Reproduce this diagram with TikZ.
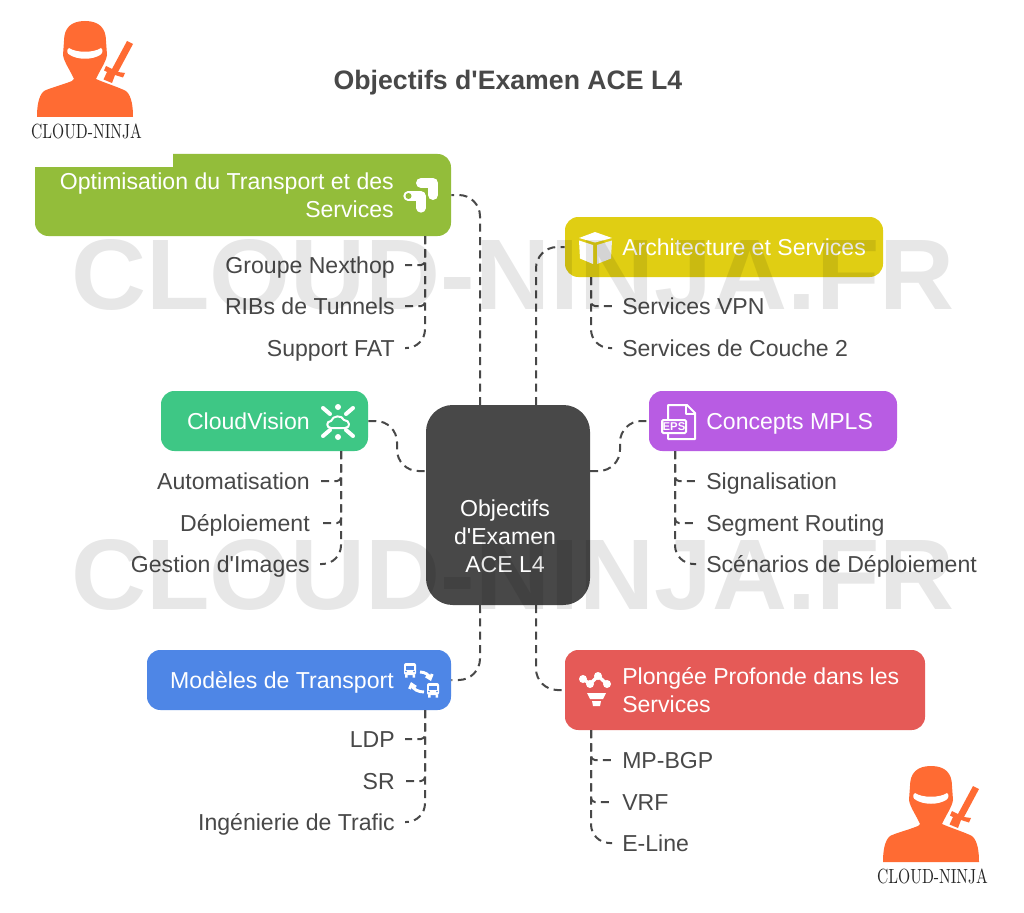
\documentclass[tikz,border=0pt]{standalone}
\usepackage{fontspec}
\usetikzlibrary{arrows.meta}
\setsansfont{Liberation Sans}
\definecolor{cOpt}{HTML}{93BD3A}
\definecolor{cArch}{HTML}{E0CE13}
\definecolor{cCon}{HTML}{B85CE3}
\definecolor{cCloud}{HTML}{3EC785}
\definecolor{cMod}{HTML}{4E86E6}
\definecolor{cPlo}{HTML}{E55A57}
\definecolor{cDark}{HTML}{484848}
\definecolor{cNinja}{HTML}{FF6B33}
\tikzset{
  box/.style={rectangle,rounded corners=10pt,inner sep=0pt},
  wh/.style 2 args={minimum width={#1*0.75pt},minimum height={#2*0.75pt}},
  boxtext/.style={font=\sffamily\fontsize{17.3}{21}\selectfont,text=white,inner sep=0pt},
  oneline/.style={text height=15.8pt,text depth=3.5pt},
  leaf/.style={font=\sffamily\fontsize{17.3}{21}\selectfont,text=cDark,inner ysep=0pt,inner xsep=7.5pt,oneline},
  conn/.style={draw=cDark,line width=1.5pt,dash pattern=on 6pt off 4pt},
  wm/.style={text=black,text opacity=0.095,inner sep=0pt},
  ico/.style={draw=white,line width=1.5pt,line cap=round,line join=round},
}
\newcommand{\leaflink}[3]{\draw[conn,rounded corners=#3] (#1) -- (#1 |- #2.east) -- (#2.east);}
\newcommand{\leaflinkw}[3]{\draw[conn,rounded corners=#3] (#1) -- (#1 |- #2.west) -- (#2.west);}
\newcommand{\ninjalogo}[3]{%
 \begin{scope}[shift={(#1,#2)}]
  \fill[cNinja] (85,21) .. controls (71,21) and (64,28) .. (64,41) -- (63,55)
     .. controls (64,62) and (70,70) .. (74,79) -- (72,81)
     .. controls (62,85) and (50,88) .. (44,91)
     .. controls (38,96) and (37,108) .. (37,117) -- (133,117)
     .. controls (133,108) and (132,96) .. (126,91)
     .. controls (118,87) and (105,83) .. (96,79)
     .. controls (100,70) and (106,62) .. (107,55) -- (106,41)
     .. controls (106,28) and (99,21) .. (85,21) -- cycle;
  \fill[white] (69,48) .. controls (76,53) and (94,53) .. (101,48)
     .. controls (104,50) and (102,54) .. (100,55)
     .. controls (92,60) and (78,60) .. (70,55)
     .. controls (67,54) and (66,50) .. (69,48) -- cycle;
  \fill[cNinja] (127,41) -- (133,44) -- (118,72) -- (125,73) -- (123,77.5) -- (115,75) -- (112,83)
     -- (103.5,79.5) -- (107,72) -- (104,70.5) -- (106,66) -- (112,69) -- cycle;
  \node[inner sep=0pt,text=black!85] (#3) at (86.5,131) {\resizebox{83pt}{11pt}{CLOUD-NINJA}};
 \end{scope}}
\newcommand{\busico}[3]{%
 \begin{scope}[shift={(#1,#2)}]
  \fill[white,rounded corners=1.5pt] (0,0) rectangle (12,12);
  \fill[white] (1,12) rectangle (3.5,14.5) (8.5,12) rectangle (11,14.5);
  \fill[#3] (2,2.5) rectangle (10,6.5);
  \fill[#3] (2,8.5) circle (0.9) (10,8.5) circle (0.9);
 \end{scope}}
\begin{document}
\begin{tikzpicture}[x=0.75pt,y=-0.75pt]
\useasboundingbox (0,0) rectangle (1024,913);
\fill[white] (0,0) rectangle (1024,913);

% connector ends on the central box and trunks
\coordinate (cNL) at (480,405);
\coordinate (cNR) at (536,405);
\coordinate (cSL) at (480,605);
\coordinate (cSR) at (536,605);
\coordinate (cW) at (426,471);
\coordinate (cE) at (590,471);
\coordinate (tOpt) at (425,236);
\coordinate (tArch) at (591,277);
\coordinate (tCon) at (675,451);
\coordinate (tCloud) at (341,451);
\coordinate (tMod) at (425,710);
\coordinate (tPlo) at (591,730);
\coordinate (sCon1) at (620,471);
\coordinate (sCon2) at (620,421);
\coordinate (sCl1) at (397,421);
\coordinate (sCl2) at (397,471);

% leaves
\node[leaf,anchor=east] (o1) at (405,265) {Groupe Nexthop};
\node[leaf,anchor=east] (o2) at (405,306) {RIBs de Tunnels};
\node[leaf,anchor=east] (o3) at (405,348) {Support FAT};
\node[leaf,anchor=west] (a1) at (612,306) {Services VPN};
\node[leaf,anchor=west] (a2) at (612,348) {Services de Couche 2};
\node[leaf,anchor=west] (m1) at (696,481) {Signalisation};
\node[leaf,anchor=west] (m2) at (696,523) {Segment Routing};
\node[leaf,anchor=west] (m3) at (696,564) {Scénarios de Déploiement};
\node[leaf,anchor=east] (v1) at (320,481) {Automatisation};
\node[leaf,anchor=east] (v2) at (320,523) {Déploiement};
\node[leaf,anchor=east] (v3) at (320,564) {Gestion d\textquotesingle{}Images};
\node[leaf,anchor=east] (t1) at (405,739) {LDP};
\node[leaf,anchor=east] (t2) at (405,781) {SR};
\node[leaf,anchor=east] (t3) at (405,822) {Ingénierie de Trafic};
\node[leaf,anchor=west] (p1) at (612,760) {MP-BGP};
\node[leaf,anchor=west] (p2) at (612,802) {VRF};
\node[leaf,anchor=west] (p3) at (612,843) {E-Line};

% boxes
\node[box,fill=cOpt,wh={416}{82}] (opt) at (243,195) {};
\fill[white] (34,153) rectangle (173,167);
\fill[cOpt] (35,167) rectangle (60,190);
\node[box,fill=cArch,wh={318}{60}] (arch) at (724,247) {};
\node[box,fill=cCon,wh={248}{60}] (con) at (773,421) {};
\node[box,fill=cCloud,wh={207}{60}] (cloud) at (264.5,421) {};
\node[box,fill=cMod,wh={304}{60}] (mod) at (299,680) {};
\node[box,fill=cPlo,wh={360}{80}] (plo) at (745,690) {};
\node[box,fill=cDark,rounded corners=20pt,wh={164}{200}] (center) at (508,505) {};

% connectors
\draw[conn,rounded corners=16pt] (cNL) |- (opt.east);
\draw[conn,rounded corners=16pt] (cNR) |- (arch.west);
\draw[conn,rounded corners=16pt] (cSL) |- (mod.east);
\draw[conn,rounded corners=16pt] (cSR) |- (plo.west);
\draw[conn,rounded corners=16pt] (cE) -- (sCon1) -- (sCon2) -- (con.west);
\draw[conn,rounded corners=16pt] (cloud.east) -- (sCl1) -- (sCl2) -- (cW);
\leaflink{tOpt}{o1}{3pt}\leaflink{tOpt}{o2}{3pt}\leaflink{tOpt}{o3}{14pt}
\leaflinkw{tArch}{a1}{3pt}\leaflinkw{tArch}{a2}{14pt}
\leaflinkw{tCon}{m1}{3pt}\leaflinkw{tCon}{m2}{3pt}\leaflinkw{tCon}{m3}{14pt}
\leaflink{tCloud}{v1}{3pt}\leaflink{tCloud}{v2}{3pt}\leaflink{tCloud}{v3}{14pt}
\leaflink{tMod}{t1}{3pt}\leaflink{tMod}{t2}{3pt}\leaflink{tMod}{t3}{14pt}
\leaflinkw{tPlo}{p1}{3pt}\leaflinkw{tPlo}{p2}{3pt}\leaflinkw{tPlo}{p3}{14pt}

% box texts
\node[boxtext,align=right,anchor=east] (optT) at (394,195) {Optimisation du Transport et des\\Services};
\node[boxtext,oneline,anchor=west] (archT) at (622,247) {Architecture et Services};
\node[boxtext,oneline,anchor=west] (conT) at (706,421) {Concepts MPLS};
\node[boxtext,oneline,anchor=east] (cloudT) at (310,421) {CloudVision};
\node[boxtext,oneline,anchor=east] (modT) at (394,680) {Modèles de Transport};
\node[boxtext,align=left,anchor=west] (ploT) at (622,690) {Plongée Profonde dans les\\Services};
\node[boxtext,align=center] (centerT) at (505,536) {Objectifs\\d\textquotesingle{}Examen\\ACE L4};
\node[font=\sffamily\bfseries\fontsize{20}{24}\selectfont,text=cDark,inner sep=0pt,text height=18.5pt,text depth=4pt] (title) at (508,80) {Objectifs d\textquotesingle{}Examen ACE L4};

% icon: optimisation
\draw[white,line width=7.5pt,line cap=round,line join=round] (421,183) -- (433,183) -- (433,195);
\draw[white,line width=7pt,line cap=round,line join=round] (408,196) -- (421,196) -- (421,208);
\fill[cOpt] (408.5,196) circle (3);
% icon: cube
\fill[white] (595,232) -- (612,238) -- (595,242.5) -- (579,238) -- cycle;
\fill[white] (579,240.5) -- (593,245) -- (593,264) -- (580,258.5) -- cycle;
\fill[white!92!black] (612,240.5) -- (597,245) -- (597,264) -- (611,258.5) -- cycle;
% icon: EPS
\draw[white,line width=1.5pt,line join=round] (668,419) -- (668,405) -- (687,405) -- (695,413) -- (695,439) -- (668,439) -- (668,433);
\draw[white,line width=1.5pt,line join=round] (686,405) -- (686,414) -- (695,414);
\draw[white,line width=1.5pt,rounded corners=1pt,fill=cCon] (662,420) rectangle (686,433);
\node[font=\sffamily\bfseries\fontsize{8.5}{9}\selectfont,text=white,inner sep=0pt] (eps) at (674,426.5) {EPS};
% icon: cloudvision
\fill[white] (338,407) circle (3) (338,437) circle (3);
\draw[ico,line width=3pt] (323,408) -- (330,414) (353,408) -- (346,414) (323,436) -- (330,430) (353,436) -- (346,430);
\draw[ico] (331,428) .. controls (326,428) and (326,421) .. (331,421) .. controls (333,415) and (342,415) .. (344,420) .. controls (350,420) and (351,428) .. (345,428) -- cycle;
% icon: buses
\busico{404}{663}{cMod}
\busico{427}{683}{cMod}
\draw[white,line width=2.2pt,-{Straight Barb[length=3pt,width=5pt]}] (420,672) .. controls (425,672) and (429,675) .. (431,681);
\draw[white,line width=2.2pt,-{Straight Barb[length=3pt,width=5pt]}] (424,692) .. controls (418,692) and (413,689) .. (411,682);
% icon: funnel
\draw[white,line width=2.5pt,line join=round] (583,679) -- (590,684) -- (598,676) -- (607,684);
\fill[white] (583,679) circle (4) (590,684) circle (4) (598,676) circle (4) (607,684) circle (4);
\fill[white] (587,693) -- (606,693) -- (603,699) -- (590,699) -- cycle;
\fill[white] (592,701) -- (601,701) -- (600,706) -- (593,706) -- cycle;

% logos
\ninjalogo{0}{0}{logoA}
\ninjalogo{846}{745}{logoB}

% watermark
\node[wm] (wm1) at (513,274.5) {\resizebox{662pt}{52.5pt}{\sffamily\bfseries CLOUD-NINJA.FR}};
\node[wm] (wm2) at (513,574.5) {\resizebox{662pt}{52.5pt}{\sffamily\bfseries CLOUD-NINJA.FR}};
\end{tikzpicture}
\end{document}
